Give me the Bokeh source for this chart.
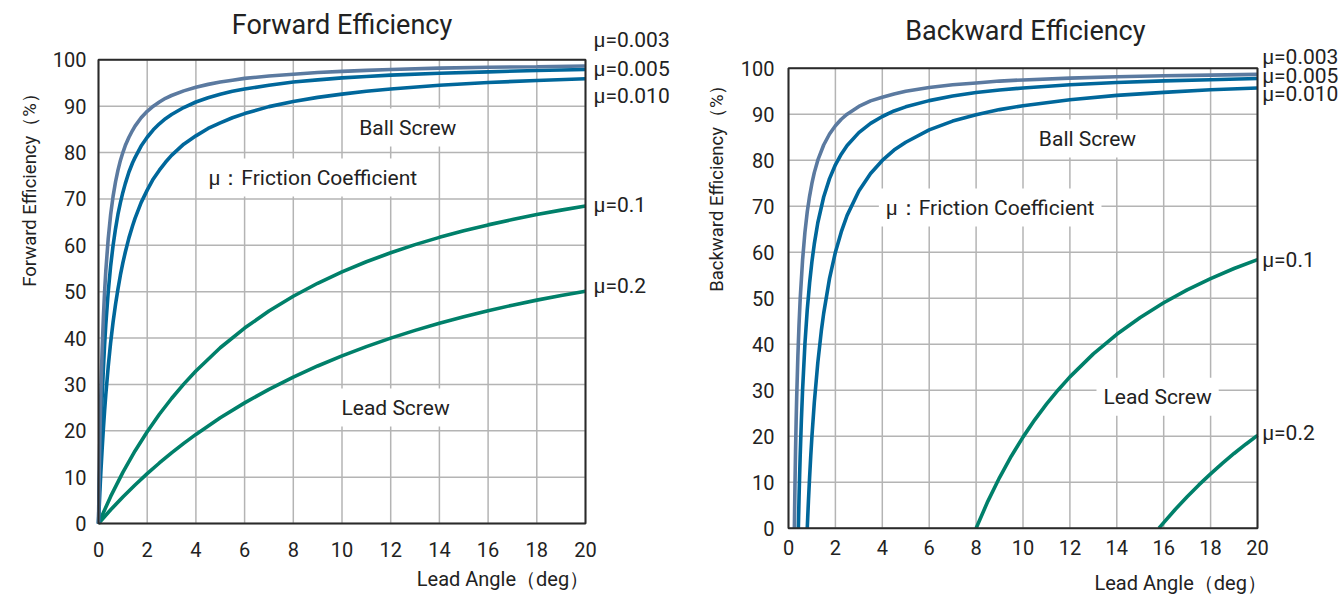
import math
from bokeh.plotting import figure
from bokeh.models import Range1d, FixedTicker, Label
from bokeh.layouts import row
from bokeh.embed import file_html
from bokeh.resources import INLINE

# ---------------- data ----------------
x_ticks = [0, 2, 4, 6, 8, 10, 12, 14, 16, 18, 20]
y_ticks = [0, 10, 20, 30, 40, 50, 60, 70, 80, 90, 100]

# Forward efficiency, ball screws
fwd_ball_x = [0, 0.025, 0.05, 0.075, 0.1, 0.15, 0.2, 0.25, 0.3, 0.4, 0.5, 0.6, 0.7, 0.8, 0.9,
              1.0, 1.1, 1.25, 1.4, 1.5, 1.75, 2, 2.25, 2.5, 2.75, 3, 3.5, 4, 4.5, 5, 5.5, 6,
              7, 8, 9, 10, 11, 12, 14, 16, 18, 20]
fwd_mu003 = [0, 9.1, 16.7, 23.1, 28.6, 37.5, 44.4, 50.0, 54.5, 61.5, 66.7, 70.6, 73.7, 76.2, 78.3,
             80.0, 81.5, 83.3, 84.8, 85.7, 87.5, 88.9, 90.0, 90.9, 91.7, 92.3, 93.3, 94.1, 94.7, 95.2, 95.6, 96.0,
             96.5, 96.9, 97.25, 97.5, 97.72, 97.9, 98.2, 98.4, 98.5, 98.65]
fwd_mu005 = [0, 5.9, 11.1, 15.8, 20.0, 27.3, 33.3, 38.5, 42.9, 50.0, 55.6, 60.0, 63.6, 66.7, 69.2,
             71.4, 73.3, 75.8, 77.8, 78.9, 81.4, 83.3, 84.9, 86.2, 87.3, 88.2, 89.7, 90.9, 91.8, 92.55, 93.2, 93.7,
             94.5, 95.2, 95.67, 96.1, 96.4, 96.7, 97.1, 97.4, 97.7, 97.9]
fwd_mu010 = [0, 3.1, 6.0, 8.8, 11.4, 16.1, 20.4, 24.3, 27.8, 33.9, 39.1, 43.5, 47.3, 50.6, 53.6,
             56.2, 58.5, 61.6, 64.2, 65.8, 69.2, 71.9, 74.3, 76.2, 77.9, 79.4, 81.8, 83.6, 85.2, 86.4, 87.5, 88.4,
             89.9, 91.0, 91.9, 92.6, 93.2, 93.7, 94.5, 95.1, 95.55, 95.9]

# Forward efficiency, lead screws
fwd_lead_x = [0, 0.5, 1, 1.5, 2, 2.5, 3, 3.5, 4, 5, 6, 7, 8, 9, 10, 11, 12, 13, 14, 15, 16, 17, 18, 19, 20]
fwd_mu01 = [0, 5.84, 11.02, 15.65, 19.80, 23.56, 26.96, 30.06, 32.90, 37.90, 42.15, 45.82, 49.01, 51.81,
            54.27, 56.45, 58.40, 60.14, 61.71, 63.13, 64.40, 65.56, 66.62, 67.58, 68.45]
fwd_mu02 = [0, 2.95, 5.71, 8.31, 10.75, 13.05, 15.22, 17.27, 19.21, 22.79, 26.01, 28.93, 31.57, 33.97,
            36.15, 38.15, 39.98, 41.65, 43.19, 44.59, 45.89, 47.08, 48.17, 49.18, 50.10]

# Backward efficiency, ball screws
bwd_mu003_x = [0.25, 0.26, 0.275, 0.3, 0.325, 0.35, 0.4, 0.45, 0.5, 0.6, 0.7, 0.8, 0.9, 1.0, 1.1, 1.25,
               1.5, 1.75, 2, 2.25, 2.5, 3, 3.5, 4, 4.5, 5, 6, 7, 8, 9, 10, 12, 14, 16, 18, 20]
bwd_mu003 = [0, 3.8, 9.1, 16.7, 23.1, 28.6, 37.5, 44.4, 50.0, 58.3, 64.3, 68.8, 72.2, 75.0, 77.3, 80.0,
             83.3, 85.7, 87.5, 88.9, 90.0, 91.7, 92.9, 93.7, 94.4, 95.0, 95.8, 96.4, 96.8, 97.2, 97.45,
             97.85, 98.15, 98.35, 98.5, 98.65]
bwd_mu005_x = [0.42, 0.43, 0.45, 0.475, 0.5, 0.55, 0.6, 0.7, 0.8, 0.9, 1.0, 1.1, 1.25, 1.5, 1.75, 2,
               2.25, 2.5, 3, 3.5, 4, 4.5, 5, 6, 7, 8, 9, 10, 12, 14, 16, 18, 20]
bwd_mu005 = [0, 2.3, 6.7, 11.6, 16.0, 23.6, 30.0, 40.0, 47.5, 53.3, 58.0, 61.8, 66.4, 72.0, 76.0, 79.0,
             81.3, 83.2, 86.0, 88.0, 89.5, 90.7, 91.6, 92.95, 93.95, 94.7, 95.26, 95.7, 96.4, 96.9,
             97.25, 97.5, 97.75]
bwd_mu010_x = [0.8, 0.82, 0.85, 0.9, 0.95, 1.0, 1.1, 1.25, 1.4, 1.5, 1.75, 2, 2.25, 2.5, 3, 3.5, 4,
               4.5, 5, 6, 7, 8, 9, 10, 12, 14, 16, 18, 20]
bwd_mu010 = [0, 2.4, 5.9, 11.1, 15.8, 20.0, 27.3, 36.0, 42.9, 46.7, 54.3, 60.0, 64.4, 68.0, 73.3, 77.1,
             79.95, 82.2, 83.9, 86.6, 88.5, 89.9, 91.0, 91.85, 93.15, 94.1, 94.75, 95.3, 95.7]

# Backward efficiency, lead screws
bwd_mu01_x = [8, 8.5, 9, 9.5, 10, 10.5, 11, 11.5, 12, 13, 14, 15, 16, 17, 18, 19, 20]
bwd_mu01 = [0, 5.84, 11.02, 15.65, 19.80, 23.56, 26.96, 30.06, 32.90, 37.90, 42.15, 45.82, 49.01,
            51.81, 54.27, 56.45, 58.40]
bwd_mu02_x = [15.8, 16, 16.5, 17, 17.5, 18, 18.5, 19, 19.5, 20]
bwd_mu02 = [0, 1.22, 4.12, 6.85, 9.41, 11.82, 14.09, 16.24, 18.26, 20.18]

mu_labels = ["μ=0.003", "μ=0.005", "μ=0.010", "μ=0.1", "μ=0.2"]

# ---------------- styling ----------------
C_LIGHT = "#5b7aa0"
C_BLUE = "#00679b"
C_GREEN = "#00806a"
GRID = "#b4b4b4"
TXT = "#222222"
FONT = "Roboto"
LW = 3.6

X_MIN, X_MAX = x_ticks[0], x_ticks[-1]
Y_MIN, Y_MAX = y_ticks[0], y_ticks[-1]


def base_fig(fig_w, fig_h, px_left, px_right, px_top, px_bottom, std_y, std_x):
    """px_* = pixel position (inside the figure) of the data frame edges."""
    sx = (px_right - px_left) / (X_MAX - X_MIN)
    sy = (px_bottom - px_top) / (Y_MAX - Y_MIN)
    xr = Range1d(X_MIN - px_left / sx, X_MAX + (fig_w - px_right) / sx)
    yr = Range1d(Y_MIN - (fig_h - px_bottom) / sy, Y_MAX + px_top / sy)
    p = figure(frame_width=fig_w, frame_height=fig_h, min_border=0,
               x_range=xr, y_range=yr,
               output_backend="svg", toolbar_location=None, tools="")
    p.xaxis.ticker = FixedTicker(ticks=x_ticks)
    p.yaxis.ticker = FixedTicker(ticks=y_ticks)
    p.xaxis.fixed_location = Y_MIN
    p.yaxis.fixed_location = X_MIN
    p.xaxis.bounds = (X_MIN, X_MAX)
    p.yaxis.bounds = (Y_MIN, Y_MAX)
    for ax in (p.xaxis, p.yaxis):
        ax.axis_line_color = None
        ax.major_tick_line_color = None
        ax.minor_tick_line_color = None
        ax.major_label_text_font = FONT
        ax.major_label_text_font_size = "20px"
        ax.major_label_text_color = TXT
    p.yaxis.major_label_standoff = std_y
    p.xaxis.major_label_standoff = std_x
    p.grid.visible = False
    p.outline_line_color = None
    p.background_fill_color = "white"
    p.border_fill_color = "white"
    # grid lines restricted to the data frame
    n = len(x_ticks)
    p.segment(x0=x_ticks, y0=[Y_MIN] * n, x1=x_ticks, y1=[Y_MAX] * n,
              line_color=GRID, line_width=1.5)
    m = len(y_ticks)
    p.segment(x0=[X_MIN] * m, y0=y_ticks, x1=[X_MAX] * m, y1=y_ticks,
              line_color=GRID, line_width=1.5)
    return p


def frame_box(p):
    p.quad(left=[X_MIN], right=[X_MAX], bottom=[Y_MIN], top=[Y_MAX],
           fill_color=None, line_color="#2a2a2a", line_width=2)


def word(p, x, y, text, size="21px", align="center", bg=False, angle=0.0):
    lab = Label(x=x, y=y, text=text, text_font=FONT, text_font_size=size,
                text_color=TXT, text_align=align, text_baseline="middle", angle=angle)
    if bg:
        lab.background_fill_color = "white"
        lab.padding = 7
    p.add_layout(lab)


# ---------------- forward ----------------
p1 = base_fig(680, 596, 98, 585, 59.3, 523, 6, 12)
p1.line(fwd_lead_x, fwd_mu01, line_color=C_GREEN, line_width=LW)
p1.line(fwd_lead_x, fwd_mu02, line_color=C_GREEN, line_width=LW)
p1.line(fwd_ball_x, fwd_mu010, line_color=C_BLUE, line_width=LW)
p1.line(fwd_ball_x, fwd_mu005, line_color=C_BLUE, line_width=LW)
p1.line(fwd_ball_x, fwd_mu003, line_color=C_LIGHT, line_width=LW)
frame_box(p1)

word(p1, 10, 107.6, "Forward Efficiency", size="27px")
word(p1, -2.8, 72.9, "Forward Efficiency（%）", size="18.5px", angle=math.pi / 2)
word(p1, 20.15, -11.9, "Lead Angle（deg）", size="20px", align="right")
word(p1, 12.7, 85.4, "Ball Screw", bg=True)
word(p1, 8.8, 74.6, "μ：Friction Coefficient", bg=True)
word(p1, 12.2, 25.0, "Lead Screw", bg=True)
for lab, yy in zip(mu_labels, [104.2, 98.1, 92.3, 68.6, 51.3]):
    word(p1, 20.33, yy, lab, size="21px", align="left")

# ---------------- backward ----------------
p2 = base_fig(661, 596, 108, 577, 67.7, 527.7, 8, 6)
p2.line(bwd_mu01_x, bwd_mu01, line_color=C_GREEN, line_width=LW)
p2.line(bwd_mu02_x, bwd_mu02, line_color=C_GREEN, line_width=LW)
p2.line(bwd_mu010_x, bwd_mu010, line_color=C_BLUE, line_width=LW)
p2.line(bwd_mu005_x, bwd_mu005, line_color=C_BLUE, line_width=LW)
p2.line(bwd_mu003_x, bwd_mu003, line_color=C_LIGHT, line_width=LW)
frame_box(p2)

word(p2, 10.1, 108.0, "Backward Efficiency", size="27px")
word(p2, -3.03, 74.9, "Backward Efficiency（%）", size="18.5px", angle=math.pi / 2)
word(p2, 20.4, -12.0, "Lead Angle（deg）", size="20px", align="right")
word(p2, 12.75, 84.7, "Ball Screw", bg=True)
word(p2, 8.6, 69.7, "μ：Friction Coefficient", bg=True)
word(p2, 15.74, 28.6, "Lead Screw", bg=True)
for lab, yy in zip(mu_labels, [102.5, 98.4, 94.3, 58.2, 20.6]):
    word(p2, 20.2, yy, lab, size="21px", align="left")

layout = row(p1, p2)
open("out.html", "w").write(file_html(layout, INLINE))
